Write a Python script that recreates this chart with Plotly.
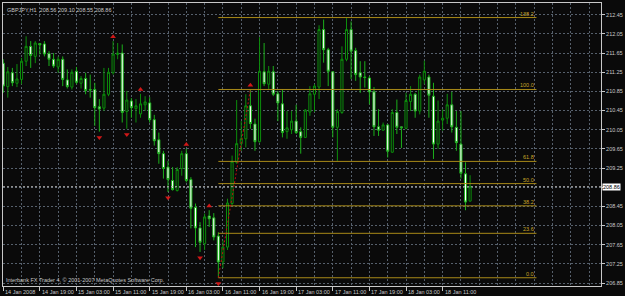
import plotly.graph_objects as go

# ---------------- data ----------------
bars = list(range(103))
opens = [211.44, 210.95, 211.24, 211.02, 211.10, 211.48, 211.79, 211.58, 211.85, 211.84,
         211.64, 211.52, 211.36, 211.52, 211.09, 210.94, 211.27, 211.02, 211.12, 210.89,
         210.89, 210.53, 210.50, 210.79, 211.24, 211.62, 211.65, 210.43, 210.65, 210.49,
         210.38, 210.57, 210.61, 210.26, 209.84, 209.55, 209.27, 208.99, 208.78, 209.24,
         209.55, 209.01, 208.43, 208.00, 207.67, 208.25, 208.21, 207.83, 207.29, 207.60,
         208.51, 209.37, 209.76, 209.86, 210.55, 210.17, 209.80, 211.26, 211.00, 211.26,
         210.80, 210.59, 210.01, 210.05, 210.23, 210.01, 209.89, 210.42, 210.79, 210.94,
         212.14, 211.72, 211.26, 210.10, 210.41, 211.52, 212.14, 211.70, 211.24, 211.15,
         211.13, 210.84, 210.11, 210.04, 210.15, 209.58, 210.41, 210.11, 210.08, 210.64,
         210.79, 210.44, 211.09, 211.15, 210.75, 209.75, 210.25, 210.29, 210.57, 210.10,
         209.75, 209.13, 208.56]
highs = [211.52, 211.36, 211.34, 211.42, 211.55, 212.00, 211.90, 211.90, 211.86, 211.90,
         211.69, 211.65, 211.58, 211.58, 211.31, 211.31, 211.36, 211.17, 211.24, 211.20,
         211.03, 210.69, 211.34, 211.34, 211.90, 211.86, 211.83, 210.86, 210.71, 210.69,
         210.80, 210.75, 210.73, 210.36, 209.99, 209.61, 209.40, 209.27, 209.27, 209.61,
         209.65, 209.06, 208.51, 208.12, 208.30, 208.37, 208.31, 207.91, 207.74, 208.61,
         209.51, 210.67, 210.23, 210.79, 210.89, 210.28, 211.98, 211.86, 211.38, 211.38,
         210.86, 210.90, 210.44, 210.44, 210.57, 210.10, 210.48, 210.96, 211.00, 212.23,
         212.35, 211.76, 211.27, 210.48, 211.79, 212.38, 212.31, 211.76, 211.48, 211.48,
         211.17, 210.94, 210.48, 210.20, 210.17, 210.48, 210.68, 210.11, 210.82, 210.96,
         210.82, 211.20, 211.49, 211.20, 211.03, 210.66, 210.48, 210.80, 210.84, 210.44,
         210.44, 209.37, 209.10]
lows = [210.82, 210.72, 210.96, 210.94, 211.00, 211.38, 211.34, 211.44, 211.62, 211.58,
        211.38, 211.34, 211.24, 210.96, 210.91, 210.89, 211.00, 210.91, 210.79, 210.72,
        210.13, 210.01, 210.44, 210.75, 211.20, 211.52, 210.20, 210.07, 210.30, 210.20,
        210.30, 210.44, 210.20, 209.72, 209.34, 209.03, 208.75, 208.78, 208.76, 209.09,
        208.95, 207.99, 207.60, 207.50, 207.54, 208.02, 207.74, 206.96, 207.16, 207.54,
        208.47, 209.34, 209.61, 209.68, 210.07, 209.61, 209.78, 210.96, 210.90, 210.75,
        210.23, 209.89, 209.86, 209.96, 209.96, 209.55, 209.88, 210.34, 210.42, 210.69,
        211.45, 210.96, 209.89, 209.40, 210.38, 211.48, 211.11, 211.07, 210.82, 210.93,
        210.58, 209.92, 209.92, 210.03, 209.47, 209.57, 209.96, 209.67, 210.06, 210.44,
        210.30, 210.37, 211.00, 210.30, 209.44, 209.65, 210.03, 210.17, 209.99, 209.61,
        209.03, 208.37, 208.55]
closes = [210.96, 211.26, 211.03, 211.11, 211.48, 211.79, 211.60, 211.86, 211.82, 211.63,
          211.52, 211.38, 211.52, 211.10, 210.95, 211.25, 211.04, 211.12, 210.87, 210.88,
          210.51, 210.48, 210.79, 211.25, 211.63, 211.65, 210.41, 210.67, 210.51, 210.55,
          210.59, 210.63, 210.26, 209.82, 209.55, 209.24, 209.01, 208.80, 209.22, 209.55,
          208.99, 208.41, 208.00, 207.70, 208.23, 208.19, 207.81, 207.29, 207.60, 208.52,
          209.39, 209.76, 209.86, 210.55, 210.18, 209.80, 211.27, 211.01, 211.27, 210.79,
          210.61, 209.99, 210.09, 210.23, 209.99, 209.89, 210.46, 210.80, 210.96, 212.14,
          211.72, 211.27, 210.10, 210.43, 211.52, 212.14, 211.69, 211.20, 211.15, 211.14,
          210.84, 210.11, 210.04, 210.15, 209.60, 210.41, 210.10, 210.09, 210.66, 210.79,
          210.44, 211.15, 211.27, 210.77, 209.75, 210.23, 210.29, 210.57, 210.11, 209.78,
          209.14, 208.54, 208.86]

time_tick_bars = [0, 8, 16, 24, 32, 40, 48, 56, 64, 72, 80, 88, 96]
time_tick_labels = ["14 Jan 2008", "14 Jan 19:00", "15 Jan 03:00", "15 Jan 11:00",
                    "15 Jan 19:00", "16 Jan 03:00", "16 Jan 11:00", "16 Jan 19:00",
                    "17 Jan 03:00", "17 Jan 11:00", "17 Jan 19:00", "18 Jan 03:00",
                    "18 Jan 11:00"]
price_ticks = [206.85, 207.25, 207.65, 208.05, 208.45, 208.85, 209.25, 209.65,
               210.05, 210.45, 210.85, 211.25, 211.65, 212.05, 212.45]
# 208.85 is hidden behind the current-price box in the reference
price_tick_labels = ["206.85", "207.25", "207.65", "208.05", "208.45", "", "209.25",
                     "209.65", "210.05", "210.45", "210.85", "211.25", "211.65", "212.05",
                     "212.45"]

fib_low = 206.96
fib_high = 210.89
fib_low_bar = 47
fib_high_bar = 54
fib_end_bar = 116.5
fib_levels = [0.0, 23.6, 38.2, 50.0, 61.8, 100.0, 138.2]
fib_labels = ["0.0", "23.6", "38.2", "50.0", "61.8", "100.0", "138.2"]

fractal_up_bars = [24, 30, 40, 45, 54]
fractal_down_bars = [21, 27, 36, 43, 47]

last_price = 208.86
header_text = "GBPJPY,H1  208.56 209.10 208.55 208.86"
footer_text = "Interbank FX Trader 4, \u00a9 2001-2007 MetaQuotes Software Corp."

# ---------------- style ----------------
BG = "#0a0a0a"
GRID = "#56606c"
AXIS = "#c8c8c8"
TEXT = "#c8c8c8"
INC_LINE = "#0c8e0c"
DEC_LINE = "#1cb01c"
FIB = "#a88a18"
FIB_TEXT = "#c8a428"
FRACTAL = "#d01818"
FONT = "Liberation Sans"
FS = 5.5

fig = go.Figure()

fig.add_trace(go.Candlestick(
    x=bars, open=opens, high=highs, low=lows, close=closes,
    increasing=dict(line=dict(color=INC_LINE, width=1), fillcolor=BG),
    decreasing=dict(line=dict(color=DEC_LINE, width=1), fillcolor="#ffffff"),
    whiskerwidth=0, hoverinfo="skip", showlegend=False,
))

# Fibonacci levels
fib_range = fib_high - fib_low
annotations = []
for lvl, lab in zip(fib_levels, fib_labels):
    p = fib_low + fib_range * lvl / 100.0
    fig.add_trace(go.Scatter(x=[fib_low_bar, fib_end_bar], y=[p, p], mode="lines",
                             line=dict(color=FIB, width=1), hoverinfo="skip",
                             showlegend=False))
    annotations.append(dict(x=fib_end_bar, y=p, xref="x", yref="y", text=lab,
                            showarrow=False, xanchor="right", yanchor="bottom",
                            yshift=-1, font=dict(family=FONT, size=FS, color=FIB_TEXT)))

# Fibo trend line
fig.add_trace(go.Scatter(x=[fib_low_bar, fib_high_bar], y=[fib_low, fib_high], mode="lines",
                         line=dict(color="#c01010", width=1, dash="2px,2px"),
                         hoverinfo="skip", showlegend=False))

# Fractals
fig.add_trace(go.Scatter(x=fractal_up_bars, y=[highs[b] + 0.09 for b in fractal_up_bars],
                         mode="markers", marker=dict(symbol="triangle-up", size=5,
                                                     color=FRACTAL),
                         hoverinfo="skip", showlegend=False))
fig.add_trace(go.Scatter(x=fractal_down_bars, y=[lows[b] - 0.12 for b in fractal_down_bars],
                         mode="markers", marker=dict(symbol="triangle-down", size=5,
                                                     color=FRACTAL),
                         hoverinfo="skip", showlegend=False))

# current price line
fig.add_shape(type="line", xref="paper", x0=0, x1=1, yref="y", y0=last_price, y1=last_price,
              line=dict(color="#b4b4b4", width=1, dash="2px,2px"))

# time labels
for b, lab in zip(time_tick_bars, time_tick_labels):
    annotations.append(dict(x=b, y=0, xref="x", yref="paper", text=lab, showarrow=False,
                            xanchor="left", yanchor="top", xshift=0, yshift=-1,
                            font=dict(family=FONT, size=FS, color=TEXT)))

annotations.append(dict(x=1, y=last_price, xref="paper", yref="y",
                        text="%.2f" % last_price, showarrow=False, xanchor="left",
                        yanchor="middle", xshift=1, bgcolor="#ffffff", borderpad=0,
                        font=dict(family=FONT, size=FS, color="#000000")))
annotations.append(dict(x=0, y=1, xref="paper", yref="paper", text=header_text,
                        showarrow=False, xanchor="left", yanchor="top", xshift=2, yshift=-2,
                        font=dict(family=FONT, size=FS, color=TEXT)))
annotations.append(dict(x=0, y=0, xref="paper", yref="paper", text=footer_text,
                        showarrow=False, xanchor="left", yanchor="bottom", xshift=1,
                        yshift=1, font=dict(family=FONT, size=FS, color=TEXT)))

fig.update_layout(
    width=625, height=296,
    margin=dict(l=2, r=22, t=2, b=10),
    paper_bgcolor=BG, plot_bgcolor=BG,
    boxgap=0.35,
    showlegend=False,
    annotations=annotations,
    xaxis=dict(
        range=[-0.05, 130.6], rangeslider=dict(visible=False),
        tickmode="array", tickvals=time_tick_bars, showticklabels=False,
        ticks="outside", ticklen=4, tickcolor=AXIS, tickwidth=1,
        showgrid=True, gridcolor=GRID, griddash="2px,2px", gridwidth=1,
        minor=dict(tickmode="linear", tick0=0, dtick=4, showgrid=True, gridcolor=GRID,
                   griddash="2px,2px", ticks=""),
        showline=True, mirror=True, linecolor=AXIS, linewidth=1, zeroline=False,
    ),
    yaxis=dict(
        range=[206.788, 212.695], side="right",
        tickmode="array", tickvals=price_ticks, ticktext=price_tick_labels,
        ticks="outside", ticklen=3, tickcolor=AXIS, tickwidth=1,
        tickfont=dict(family=FONT, size=FS, color=TEXT),
        showgrid=True, gridcolor=GRID, griddash="2px,2px", gridwidth=1,
        showline=True, mirror=True, linecolor=AXIS, linewidth=1, zeroline=False,
    ),
)

fig.write_html("out.html")
